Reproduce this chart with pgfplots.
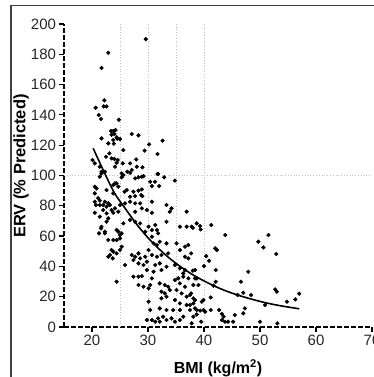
\documentclass[border=0pt]{standalone}
\usepackage{pgfplots}
\pgfplotsset{compat=1.18}
\usepackage{fontspec}
\setmainfont{Liberation Sans}
\begin{document}
\begin{tikzpicture}[x=1pt,y=1pt]
\path[use as bounding box] (0,0) rectangle (374,377);
\draw[line width=1.1pt, black!75] (11,-5) -- (11,371.5) -- (380,371.5);
\begin{axis}[
  at={(64pt,50pt)}, anchor=south west,
  scale only axis, width=308pt, height=303pt,
  xmin=15, xmax=70, ymin=0, ymax=200,
  axis lines=left,
  axis line style={-, line width=1.8pt, dash pattern=on 4.5pt off 2.5pt},
  xtick={20,30,...,70}, ytick={0,20,...,200},
  tick align=outside, major tick length=4.5pt,
  tick style={line width=1.2pt, black, solid},
  /pgf/number format/assume math mode=true,
  ticklabel style={font=\fontsize{15}{15}\selectfont, text=black!85},
  xlabel={BMI (kg/m\textsuperscript{2})},
  ylabel={ERV (\% Predicted)},
  xlabel style={at={([yshift=-46.5pt]axis description cs:0.5,0)}, anchor=base, font=\bfseries\fontsize{16}{16}\selectfont},
  ylabel style={at={([xshift=-43pt]axis description cs:0,0.531)}, anchor=center, font=\bfseries\fontsize{16.5}{16.5}\selectfont},
  clip=false,
]
\draw[black!25, line width=0.8pt, dotted] (axis cs:25,0) -- (axis cs:25,200);
\draw[black!25, line width=0.8pt, dotted] (axis cs:30,0) -- (axis cs:30,200);
\draw[black!25, line width=0.8pt, dotted] (axis cs:35,0) -- (axis cs:35,200);
\draw[black!25, line width=0.8pt, dotted] (axis cs:40,0) -- (axis cs:40,200);
\draw[black!25, line width=0.8pt, dotted] (axis cs:15,100) -- (axis cs:70,100);
\addplot[only marks, mark=*, mark size=1.9pt, black] table {
x y
21.7 171
22.9 181
29.6 190
22.2 149.6
20.65 144.7
22.1 145.6
22.6 145.6
21.2 139.9
21.6 137.3
24.8 136.8
23.4 129.3
23.8 129.3
24.2 130
24.0 127.4
23.5 126.9
25.0 124
24.5 124.3
21.7 124.5
27.1 127.4
28.3 126.5
22.9 121.2
23.9 121
25.6 116.8
30.2 120.5
29.4 116.4
32.6 123
31.7 114.2
23.1 114.6
22.5 112.4
23.5 111.3
24.0 110.9
24.6 110.2
20.1 110.2
25.5 108
27.9 110.6
29.0 105.4
31.7 101
32.9 98.8
20.5 108
21.4 105.8
21.7 102.5
24.1 105.8
24.4 108.4
25.3 101.4
26.3 102.5
27.1 103.6
30.4 95.9
31.25 95.9
28.0 105.8
26.8 108
23.8 123.4
24.4 125.2
21.7 101.4
22.3 102.5
21.4 99.2
25.6 100.3
25.3 98.8
26.8 101.8
27.7 98.1
28.3 98.8
28.9 99.2
29.2 99.6
31.8 101
34.8 96.6
24.4 94.8
20.5 92.6
20.8 91.5
22.6 90.4
23.8 93.7
24.7 92.6
25.8 89.3
26.2 90.4
27.4 89.3
28.3 90
28.9 90.8
30.7 93
32.0 93
26.8 86
27.7 86.4
28.8 87.1
29.0 86.4
20.5 82.7
21.4 83.4
22.3 82.7
22.9 81.6
23.2 80.5
22.6 79.4
22.0 77.2
23.5 77.2
24.1 78.3
25.0 80.5
25.9 81.6
26.8 82.7
27.7 81.6
28.6 81.6
30.7 82.7
33.3 80.5
34.2 78.3
33.9 76.1
36.9 76.1
20.5 75.4
22.6 75
23.8 75.4
24.7 76.1
27.7 76.1
28.9 78.3
29.8 77.2
30.7 75.4
21.4 72.8
22.9 71.7
22.6 69.5
25.6 68.4
26.8 70.6
27.7 69.5
28.6 68.4
30.1 66.2
31.3 67.3
31.6 64
33.3 69.5
35.7 66.2
36.9 66.2
37.8 66.2
38.7 68.4
21.6 65.1
22.3 62.9
24.7 62.9
25.3 61.8
25.0 58.5
24.4 57.4
29.5 62.9
30.7 64
31.8 61.8
30.7 59.6
23.8 57.4
23.5 50.8
23.8 49.7
25.3 53
25.0 50.8
24.4 48.6
27.1 47.5
27.7 46.4
28.3 48.6
28.6 45.3
29.5 46.4
30.1 50.8
31.0 55.2
31.6 54.1
32.1 56.3
33.3 55.2
35.1 55.2
35.7 50.8
36.6 53
37.2 54.1
30.7 47.5
31.6 46.4
32.4 47.5
33.6 48.6
23.7 45.3
25.9 40.9
27.4 44.2
28.3 42
29.2 40.9
29.8 43.1
31.3 40.9
32.1 42
32.4 37.6
33.3 39.8
34.8 40.9
35.7 38.7
36.6 37.6
27.4 33.2
28.3 33.2
28.9 33.6
30.7 32.1
31.0 36.5
29.8 37.6
24.4 29.9
28.3 27.7
29.2 26.6
30.1 25.5
30.4 27.7
32.1 28.8
33.0 27.7
33.6 26.6
34.8 31
35.4 32.1
35.7 28.8
36.6 26.6
38.4 32.1
39.0 27.7
32.4 23.3
33.0 22.2
33.9 24.4
35.1 24.4
36.0 22.2
36.9 20
37.5 21.1
30.1 16.7
32.4 18.9
33.3 20
34.8 17.8
35.7 15.6
36.9 14.5
38.1 15.6
30.4 11.2
32.1 12.3
33.3 11.2
34.5 11.2
35.7 11.2
37.5 11.2
38.4 12.3
29.8 4.6
30.7 4.6
31.8 5.7
32.7 6.8
33.3 4.6
34.2 5.7
34.8 3.5
35.7 4.6
32.1 3.5
31.3 3.5
36.3 6.8
20.5 88.2
20.7 80.5
21.4 80.5
22.0 80.5
21.7 66.2
21.25 61.8
22.3 61.8
22.9 57.4
23.2 47.5
22.9 46.4
24.4 64
25.0 60.7
23.8 88.2
24.1 94.8
21.1 85
38.0 65.5
39.3 66.6
39.4 64.4
41.3 67.3
43.8 60.7
37.7 48.6
40.4 46.8
40.9 43.7
42.0 51.9
42.3 50.8
49.7 56.3
51.5 60.7
50.6 52.5
52.9 48.2
40.0 40.2
38.4 37.6
38.0 37.2
42.1 37.6
38.7 32.1
42.1 29.9
41.7 27.3
47.9 36.5
46.6 29.9
47.0 22.6
46.0 21.1
48.4 21.1
52.7 24.8
53.0 23.3
57.0 22
56.3 18.2
54.8 16.7
38.1 27.7
37.7 22.2
38.1 18.9
38.4 17.8
39.9 17.8
39.6 16.7
41.2 19.5
38.7 11.2
39.3 10.8
39.9 11.2
40.2 10.1
41.2 11.2
42.7 11.2
43.2 8.6
43.5 6.8
43.2 4.6
43.75 3.5
44.3 3.5
45.2 3.5
45.5 7.9
47.0 9
47.3 12.3
50.9 14.5
50.0 3.5
53.1 2.4
39.5 3.5
37.8 2.4
38.1 6.8
38.7 8.3
37.5 14.5
36.6 46.4
37.2 45.3
36.3 35.4
36.3 33.2
37.2 32.1
};
\addplot[black, line width=1.6pt, smooth] coordinates {
(20.2,118) (22,103.6) (24,88.5) (26,77.9) (28,67.7) (30,58.9) (32,51.4) (34,44.9) (36,39.3) (38,34.5) (40,30.4) (42,26.8) (44,23.7) (46,21.1) (48,18.9) (50,16.9) (52,15.2) (54,13.8) (56,12.6) (57,12)
};
\end{axis}
\end{tikzpicture}
\end{document}
